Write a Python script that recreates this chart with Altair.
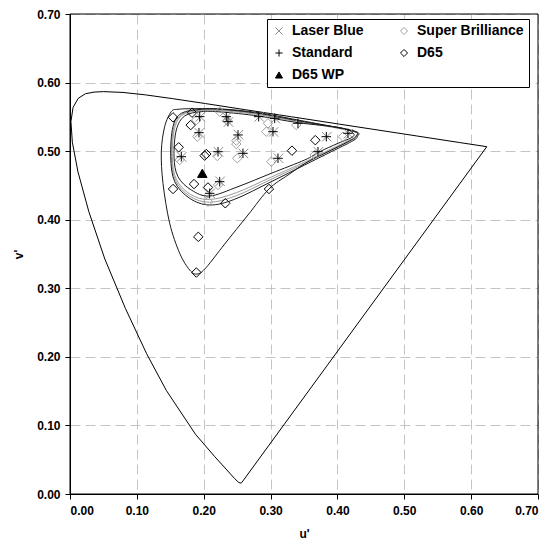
import altair as alt
import pandas as pd

# ---- spectral locus (CIE 1976 u'v'), 380 nm ... 700 nm, closed by the purple line
locus_u = [0.2568, 0.2557, 0.2522, 0.2461, 0.2347, 0.2161, 0.1877, 0.1441, 0.1147, 0.0828,
           0.0521, 0.0282, 0.0119, 0.0035, 0.0014, 0.0046, 0.0123, 0.0231, 0.0360, 0.0501,
           0.0792, 0.1127, 0.1531, 0.2026, 0.2623, 0.3315, 0.4035, 0.5203, 0.5830, 0.6234]
locus_v = [0.0166, 0.0159, 0.0169, 0.0226, 0.0350, 0.0549, 0.0871, 0.1510, 0.2044, 0.2708,
           0.3427, 0.4117, 0.4698, 0.5131, 0.5432, 0.5638, 0.5770, 0.5837, 0.5861, 0.5868,
           0.5856, 0.5821, 0.5766, 0.5694, 0.5604, 0.5501, 0.5393, 0.5219, 0.5125, 0.5065]

# ---- gamut outlines
d65_gamut_u = [0.1515, 0.1416, 0.1366, 0.1391, 0.1491, 0.1641, 0.1790, 0.1904, 0.2039, 0.2314,
               0.2662, 0.2976, 0.3261, 0.3560, 0.3859, 0.4158, 0.4282, 0.4207, 0.3410, 0.2812,
               0.2263, 0.1840, 0.1615]
d65_gamut_v = [0.5576, 0.5357, 0.4992, 0.4531, 0.3948, 0.3510, 0.3267, 0.3208, 0.3306, 0.3646,
               0.4069, 0.4448, 0.4652, 0.4846, 0.4992, 0.5138, 0.5221, 0.5299, 0.5454, 0.5561,
               0.5615, 0.5619, 0.5610]

standard_loop_u = [0.1964, 0.1715, 0.1590, 0.1556, 0.1615, 0.1815, 0.2089, 0.2513, 0.3011, 0.3510,
                   0.3735, 0.4008, 0.4233, 0.4207, 0.4008, 0.3410, 0.2812, 0.2263]
standard_loop_v = [0.5576, 0.5513, 0.5308, 0.4919, 0.4628, 0.4433, 0.4346, 0.4482, 0.4677, 0.4871,
                   0.4992, 0.5114, 0.5211, 0.5284, 0.5348, 0.5415, 0.5513, 0.5571]

laser_loop_u = [0.1964, 0.1690, 0.1565, 0.1530, 0.1590, 0.1800, 0.2089, 0.2490, 0.3010, 0.3510,
                0.3820, 0.4110, 0.4265, 0.4220, 0.3410, 0.2812, 0.2263]
laser_loop_v = [0.5592, 0.5533, 0.5333, 0.4919, 0.4590, 0.4370, 0.4295, 0.4395, 0.4622, 0.4840,
                0.4992, 0.5128, 0.5211, 0.5292, 0.5430, 0.5533, 0.5590]

super_loop_u = [0.1964, 0.1678, 0.1552, 0.1518, 0.1578, 0.1795, 0.2089, 0.2475, 0.3010, 0.3510,
                0.3860, 0.4160, 0.4280, 0.4225, 0.3410, 0.2812, 0.2263]
super_loop_v = [0.5600, 0.5542, 0.5345, 0.4919, 0.4572, 0.4340, 0.4255, 0.4345, 0.4590, 0.4820,
                0.4992, 0.5133, 0.5211, 0.5295, 0.5437, 0.5543, 0.5600]

outer_loop_u = [0.1964, 0.1665, 0.1540, 0.1506, 0.1566, 0.1790, 0.2089, 0.2463, 0.3011, 0.3510,
                0.3908, 0.4207, 0.4297, 0.4233, 0.3410, 0.2812, 0.2263]
outer_loop_v = [0.5610, 0.5552, 0.5357, 0.4919, 0.4555, 0.4312, 0.4215, 0.4298, 0.4555, 0.4798,
                0.4992, 0.5138, 0.5211, 0.5299, 0.5444, 0.5552, 0.5610]

# ---- measured points
laser_u = [0.1950, 0.1935, 0.1670, 0.2220, 0.2520, 0.2595, 0.2345, 0.2370, 0.2830, 0.3070,
           0.3045, 0.3120, 0.3840, 0.3715, 0.4165, 0.2245, 0.2095]
laser_v = [0.5500, 0.5265, 0.4915, 0.4990, 0.5240, 0.4965, 0.5500, 0.5425, 0.5500, 0.5475,
           0.5280, 0.4895, 0.5210, 0.4990, 0.5255, 0.4560, 0.4385]
standard_u = [0.1940, 0.1929, 0.1665, 0.2214, 0.2513, 0.2587, 0.2338, 0.2363, 0.2822, 0.3062,
              0.3036, 0.3111, 0.3834, 0.3709, 0.4158, 0.2239, 0.2089, 0.3410]
standard_v = [0.5503, 0.5269, 0.4919, 0.4992, 0.5236, 0.4968, 0.5503, 0.5430, 0.5503, 0.5479,
              0.5284, 0.4896, 0.5211, 0.4992, 0.5260, 0.4555, 0.4385, 0.5406]
super_u = [0.1889, 0.1904, 0.1641, 0.2203, 0.2487, 0.2487, 0.2502, 0.2239, 0.2353, 0.2961,
           0.2936, 0.3385, 0.3011, 0.3660, 0.4083, 0.2064, 0.2214]
super_v = [0.5454, 0.5211, 0.4871, 0.4929, 0.5153, 0.5104, 0.4896, 0.5576, 0.5444, 0.5406,
           0.5284, 0.5381, 0.4846, 0.4944, 0.5211, 0.4263, 0.4506]
d65_u = [0.1541, 0.1825, 0.1805, 0.1626, 0.2039, 0.2014, 0.1855, 0.1541, 0.2064, 0.2323,
         0.2976, 0.3320, 0.3669, 0.1919, 0.1890]
d65_v = [0.5493, 0.5561, 0.5380, 0.5056, 0.4958, 0.4934, 0.4520, 0.4448, 0.4470, 0.4240,
         0.4448, 0.5007, 0.5160, 0.3750, 0.3230]
wp_u = [0.1979]
wp_v = [0.4677]

# legend is laid out column by column: (Laser Blue, Standard, D65 WP) | (Super Brilliance, D65)
series_names = ["Laser Blue", "Standard", "D65 WP", "Super Brilliance", "D65"]
series_shapes = ["M-1,-1L1,1M1,-1L-1,1", "M-1,0L1,0M0,-1L0,1", "triangle-up", "diamond", "diamond"]
series_strokes = ["#8c8c8c", "#000000", "#000000", "#a0a0a0", "#000000"]
series_fills = ["transparent", "transparent", "#000000", "transparent", "transparent"]

tick_values = [0.0, 0.1, 0.2, 0.3, 0.4, 0.5, 0.6, 0.7]


def curve_frame(name, us, vs):
    return pd.DataFrame({"u": us, "v": vs, "curve": name, "k": range(len(us))})


black_curves = pd.concat([
    curve_frame("d65", d65_gamut_u, d65_gamut_v),
    curve_frame("standard", standard_loop_u, standard_loop_v),
    curve_frame("outer", outer_loop_u, outer_loop_v),
])
gray_curves = pd.concat([
    curve_frame("laser", laser_loop_u, laser_loop_v),
    curve_frame("super", super_loop_u, super_loop_v),
])
locus = curve_frame("locus", locus_u, locus_v)

points = pd.concat([
    pd.DataFrame({"u": super_u, "v": super_v, "series": "Super Brilliance"}),
    pd.DataFrame({"u": d65_u, "v": d65_v, "series": "D65"}),
    pd.DataFrame({"u": laser_u, "v": laser_v, "series": "Laser Blue"}),
    pd.DataFrame({"u": standard_u, "v": standard_v, "series": "Standard"}),
    pd.DataFrame({"u": wp_u, "v": wp_v, "series": "D65 WP"}),
])

FONT = "Liberation Sans"

x_enc = alt.X("u:Q", scale=alt.Scale(domain=[0, 0.7], nice=False),
              axis=alt.Axis(title="u'", values=tick_values, format=".2f"))
y_enc = alt.Y("v:Q", scale=alt.Scale(domain=[0, 0.7], nice=False),
              axis=alt.Axis(title="v'", values=tick_values, format=".2f"))

locus_layer = alt.Chart(locus).mark_line(
    color="black", strokeWidth=1, interpolate="linear-closed"
).encode(x=x_enc, y=y_enc, order="k:Q")

black_loops = alt.Chart(black_curves).mark_line(
    color="#1a1a1a", strokeWidth=1, interpolate="cardinal-closed"
).encode(x=x_enc, y=y_enc, detail="curve:N", order="k:Q")

gray_loops = alt.Chart(gray_curves).mark_line(
    color="#9a9a9a", strokeWidth=1, interpolate="cardinal-closed"
).encode(x=x_enc, y=y_enc, detail="curve:N", order="k:Q")

legend = alt.Legend(
    title=None, orient="none", legendX=197, legendY=5, columns=2,
    strokeColor="black", fillColor="white", padding=5, columnPadding=33, rowPadding=8,
    labelFont=FONT, labelFontSize=14, labelFontWeight="bold", labelColor="black",
    symbolSize=50, symbolStrokeWidth=1, labelOffset=6,
)

point_layer = alt.Chart(points).mark_point(size=90, strokeWidth=1, opacity=1).encode(
    x=x_enc, y=y_enc,
    shape=alt.Shape("series:N", scale=alt.Scale(domain=series_names, range=series_shapes), legend=legend),
    stroke=alt.Stroke("series:N", scale=alt.Scale(domain=series_names, range=series_strokes), legend=legend),
    fill=alt.Fill("series:N", scale=alt.Scale(domain=series_names, range=series_fills), legend=legend),
)

frame_layer = alt.Chart(pd.DataFrame({"a": [0]})).mark_rect(
    fillOpacity=0, stroke="black", strokeWidth=1
).encode(x=alt.value(0), x2=alt.value(468), y=alt.value(0), y2=alt.value(480))

chart = alt.layer(locus_layer, gray_loops, black_loops, point_layer, frame_layer).properties(
    width=468, height=480,
    padding={"left": 4, "top": 0, "right": 2, "bottom": 0},
    background="white",
).configure_view(stroke=None).configure_axis(
    domainColor="black", tickColor="black", tickSize=5,
    labelFont=FONT, labelFontSize=12, labelFontWeight="bold", labelColor="black",
    titleFont=FONT, titleFontSize=12, titleFontWeight="bold", titleColor="black",
    gridColor="#c4c4c4", gridDash=[10, 5], gridWidth=1,
).configure_axisY(titlePadding=11, labelPadding=5).configure_axisX(titlePadding=12, labelPadding=6)

chart.save("out.html", embed_options={"renderer": "svg", "actions": False})
